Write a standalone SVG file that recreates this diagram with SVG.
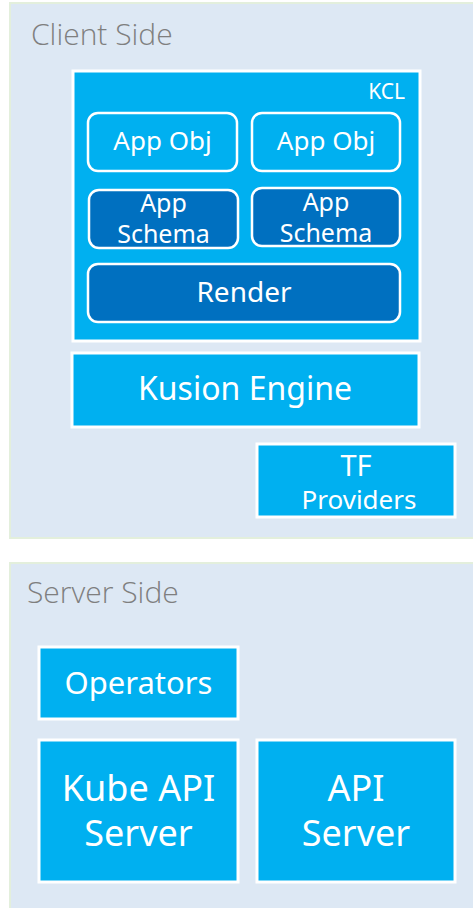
<svg xmlns="http://www.w3.org/2000/svg" width="473" height="908" viewBox="0 0 473 908">
<style>
.panel{fill:#dde8f4;stroke:#e3efdc;stroke-width:2}
.title{font-family:"Open Sans","Noto Sans",sans-serif;font-weight:300;fill:#7f7f7f;font-size:30px}
.box{fill:#00b0f0;stroke:#ffffff;stroke-width:3}
.rbox{fill:#00b0f0;stroke:#ffffff;stroke-width:2.5}
.dbox{fill:#0070c0;stroke:#ffffff;stroke-width:2.5}
.t{font-family:"Noto Sans","Open Sans",sans-serif;fill:#ffffff;text-anchor:middle}
</style>
<rect width="473" height="908" fill="#ffffff"/>
<g id="client-side">
<rect class="panel" x="10" y="3" width="470" height="535"/>
<text class="title" x="31" y="45">Client Side</text>
</g>
<g id="server-side">
<rect class="panel" x="10" y="563" width="470" height="350"/>
<text class="title" x="27" y="603">Server Side</text>
</g>
<g id="kcl">
<rect class="box" x="73" y="71" width="347" height="270"/>
<text class="t" x="405" y="99" font-size="21" style="text-anchor:end">KCL</text>
</g>
<g id="app-obj-1">
<rect class="rbox" x="88" y="113" width="149" height="58" rx="10"/>
<text class="t" x="162.5" y="150" font-size="26">App Obj</text>
</g>
<g id="app-obj-2">
<rect class="rbox" x="252" y="113" width="148" height="58" rx="10"/>
<text class="t" x="326" y="150" font-size="26">App Obj</text>
</g>
<g id="app-schema-1">
<rect class="dbox" x="89" y="190" width="149" height="58" rx="10"/>
<text class="t" x="163.5" y="212" font-size="25">App</text>
<text class="t" x="163.5" y="243" font-size="25">Schema</text>
</g>
<g id="app-schema-2">
<rect class="dbox" x="252" y="188" width="148" height="58" rx="10"/>
<text class="t" x="326" y="211" font-size="25">App</text>
<text class="t" x="326" y="242" font-size="25">Schema</text>
</g>
<g id="render">
<rect class="dbox" x="88" y="264" width="312" height="58" rx="10"/>
<text class="t" x="244" y="302" font-size="28">Render</text>
</g>
<g id="kusion-engine">
<rect class="box" x="72" y="353" width="347" height="74"/>
<text class="t" x="245" y="400" font-size="32">Kusion Engine</text>
</g>
<g id="tf-providers">
<rect class="box" x="257" y="444" width="198" height="73"/>
<text class="t" x="356" y="476" font-size="29">TF</text>
<text class="t" x="359" y="509" font-size="26">Providers</text>
</g>
<g id="operators">
<rect class="box" x="39" y="647" width="199" height="72"/>
<text class="t" x="138.5" y="694" font-size="31">Operators</text>
</g>
<g id="kube-api-server">
<rect class="box" x="39" y="740" width="199" height="142"/>
<text class="t" x="138.5" y="801" font-size="36">Kube API</text>
<text class="t" x="138.5" y="846" font-size="36">Server</text>
</g>
<g id="api-server">
<rect class="box" x="257" y="740" width="198" height="142"/>
<text class="t" x="356" y="801" font-size="36">API</text>
<text class="t" x="356" y="846" font-size="36">Server</text>
</g>
<g id="connectors"></g>
</svg>
